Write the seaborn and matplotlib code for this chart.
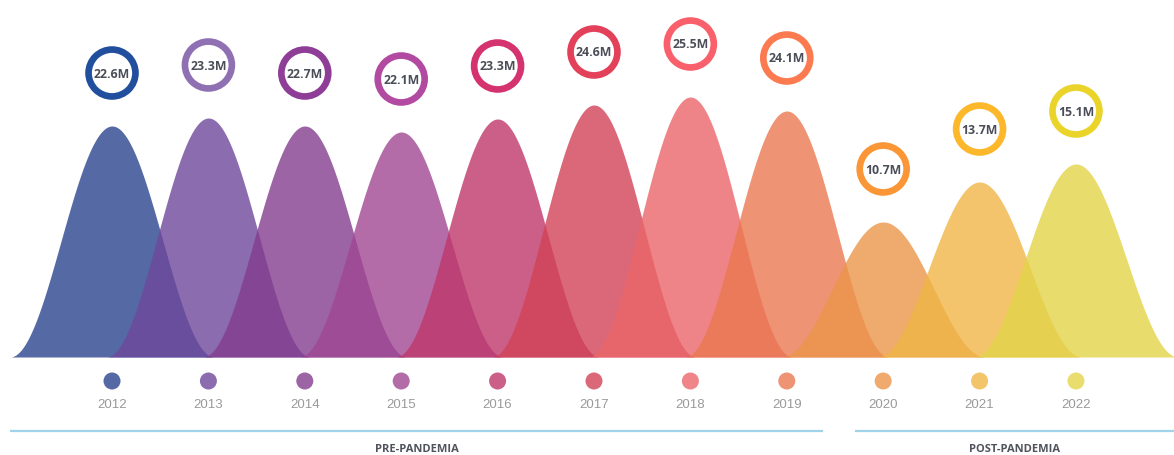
import numpy as np
import pandas as pd
import matplotlib
matplotlib.use("Agg")
import matplotlib.pyplot as plt
import seaborn as sns

# Values
years = [2012, 2013, 2014, 2015, 2016, 2017, 2018, 2019, 2020, 2021, 2022]
visitors_m = [22.6, 23.3, 22.7, 22.1, 23.3, 24.6, 25.5, 24.1, 10.7, 13.7, 15.1]
# height of each bell (as drawn in the reference)
peak_height = [231, 239, 231, 225, 238, 252, 260, 246, 135, 175, 193]

curve_colors = ["#2b448f", "#6e489b", "#833c8f", "#a14794", "#bf376a", "#d24256",
                "#eb666a", "#ea7850", "#ec954a", "#f0b646", "#e3d448"]
dot_colors = ["#5569a5", "#8b6daf", "#9c63a5", "#b46ca9", "#cc5f88", "#db6878",
              "#ef8588", "#ee9373", "#f0aa6e", "#f3c56b", "#e9dd6d"]
ring_colors = ["#214f9e", "#8f70b3", "#8e3e97", "#b14aa0", "#d4336f", "#e3405a",
               "#f9606b", "#fb7a50", "#fb9637", "#fdb72a", "#ebd42a"]

periods = ["PRE-PANDEMIA", "POST-PANDEMIA"]

df = pd.DataFrame({
    "year": years,
    "visitors": visitors_m,
    "peak": peak_height,
})
df["label"] = df["visitors"].map(lambda v: f"{v:.1f}M")

sns.set_theme(style="white")
plt.rcParams["font.family"] = ["Open Sans", "DejaVu Sans"]

fig = plt.figure(figsize=(11.74, 4.56), dpi=100)
ax = fig.add_axes([0, 0, 1, 1])
ax.set_xlim(2010.838, 2023.017)
ax.set_ylim(-98, 358)
ax.axis("off")

# bell shapes (raised cosine, slightly truncated at the foot)
bell_w = 1.06
cut = 1.04
offs = np.linspace(-cut, cut, 300)
shape = 0.5 + 0.5 * np.cos(np.pi * offs / bell_w)
for yr, h, c in zip(years, peak_height, curve_colors):
    ax.fill_between(yr + offs, 0, h * shape, color=c, alpha=0.8, lw=0, zorder=2)

# value rings above each peak
ring_gap = 53
df["ring_y"] = df["peak"] + ring_gap
sns.scatterplot(data=df, x="year", y="ring_y", legend=False,
                s=1140, marker="o", ax=ax, zorder=4)
rings = ax.collections[-1]
rings.set_facecolor("white")
rings.set_edgecolor(ring_colors)
rings.set_linewidth(4.8)
for _, r in df.iterrows():
    ax.text(r["year"], r["ring_y"], r["label"], ha="center", va="center",
            fontsize=8.8, fontweight="bold", color="#4b4e58", zorder=5)

# year dots and labels
df["dot_y"] = -24
sns.scatterplot(data=df, x="year", y="dot_y", hue="year",
                palette=dict(zip(years, dot_colors)), legend=False,
                s=150, linewidth=0, ax=ax, zorder=3)
for yr in years:
    ax.text(yr, -47, str(yr), ha="center", va="center", fontsize=9.5,
            color="#9a9a9a", family=["Liberation Sans", "DejaVu Sans"])

# period brackets
spans = [(2010.94, 2019.38), (2019.71, 2023.1)]
for name, (x0, x1) in zip(periods, spans):
    ax.plot([x0, x1], [-74, -74], color="#9fd3ea", lw=1.6, solid_capstyle="butt")
    ax.text((x0 + min(x1, 2023.017)) / 2, -92, name, ha="center", va="center",
            fontsize=8, fontweight="bold", color="#50525c")

fig.savefig("out.png", dpi=100)
plt.close(fig)
